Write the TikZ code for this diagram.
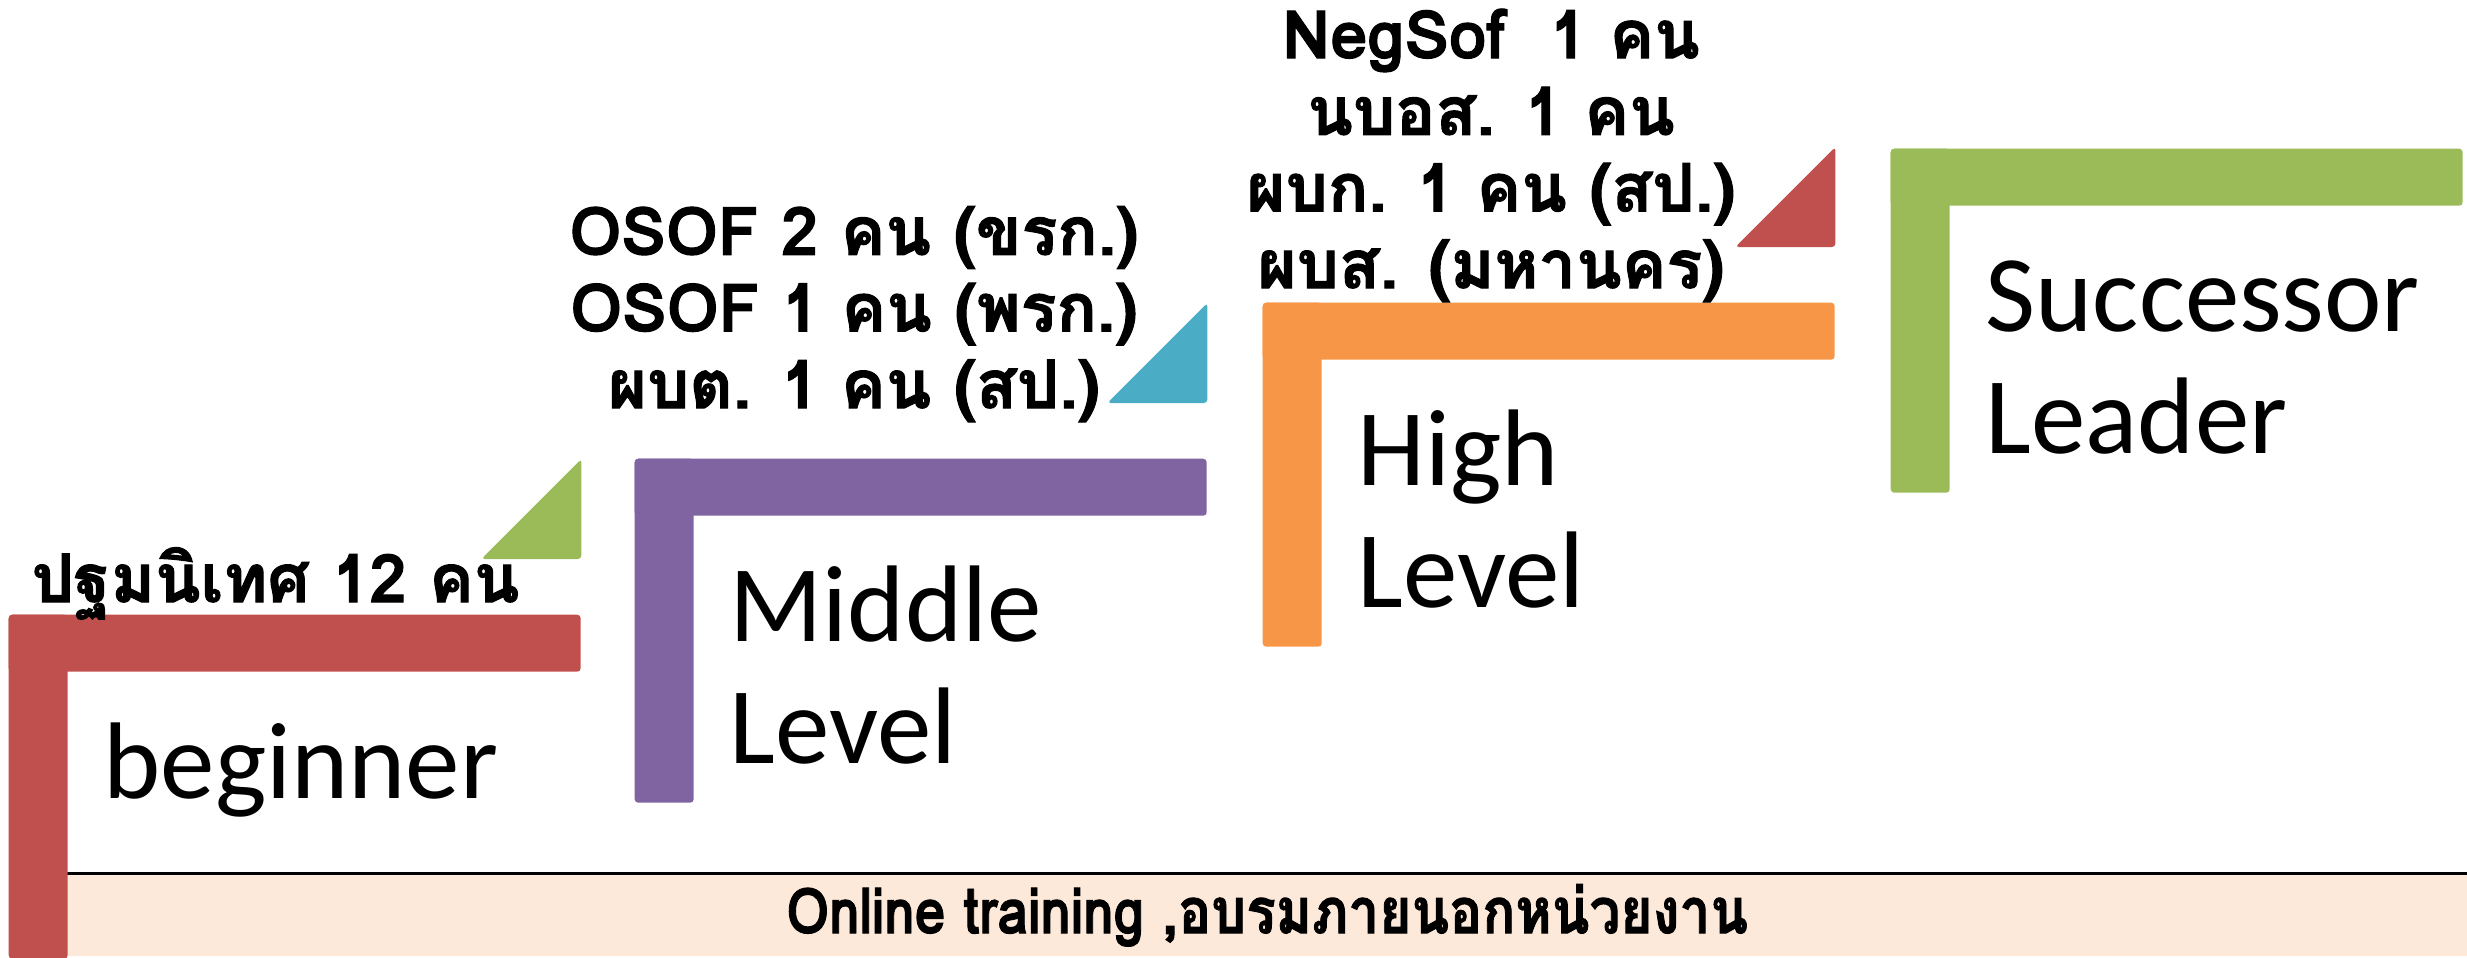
\documentclass[tikz,border=0pt]{standalone}
\usepackage{fontspec}
\setmainfont{Carlito}
\newfontfamily\thaifont[Script=Thai,BoldFeatures={FakeBold=1.5}]{Loma}
\usepackage{tikz}
\usetikzlibrary{positioning,calc}

\definecolor{stepred}{HTML}{C0504D}
\definecolor{stepgreen}{HTML}{9BBB59}
\definecolor{steppurple}{HTML}{8064A2}
\definecolor{stepblue}{HTML}{4BACC6}
\definecolor{steporange}{HTML}{F79646}
\definecolor{bandfill}{HTML}{FDE9D9}

\tikzset{
	stairbar/.style={fill=#1,minimum width=5.72cm,minimum height=0.57cm,inner sep=0pt,anchor=north west,rounded corners=1pt},
	stairpost/.style={fill=#1,minimum width=0.59cm,minimum height=3.44cm,inner sep=0pt,anchor=north west,rounded corners=1pt},
	levellabel/.style={anchor=base west,inner sep=0pt,font=\fontsize{31}{34.5}\selectfont},
	countlabel/.style={align=center,inner sep=0pt,font=\thaifont\bfseries\fontsize{19}{21.8}\selectfont},
}

\begin{document}
\begin{tikzpicture}
		\useasboundingbox (0,0) rectangle (24.67,9.57);
		\node[fill=bandfill,minimum width=24.01cm,minimum height=0.82cm,inner sep=0pt,anchor=south west] (band) at (0.66,0) {\scalebox{0.87}[1]{\thaifont\bfseries\fontsize{18}{21}\selectfont Online training ,อบรมภายนอกหน่วยงาน}};
		\draw[thick] (band.south west)--(band.north west)--(band.north east);
		
		\node[stairbar=stepred] (b1) at (0.08,3.43) {};
		\node[stairpost=stepred] (p1) at (b1.north west) {};
		\node[stairbar=steppurple,shift={(6.26,1.56)}] (b2) at (b1.north west) {};
		\node[stairpost=steppurple] (p2) at (b2.north west) {};
		\node[stairbar=steporange,shift={(6.28,1.56)}] (b3) at (b2.north west) {};
		\node[stairpost=steporange] (p3) at (b3.north west) {};
		\node[stairbar=stepgreen,shift={(6.28,1.54)}] (b4) at (b3.north west) {};
		\node[stairpost=stepgreen] (p4) at (b4.north west) {};
		
		\coordinate[shift={(0,0.55)}] (t1) at (b1.north east);
		\fill[stepgreen,rounded corners=1pt] (t1)--++(0,1.0)--++(-1.0,-1.0)--cycle;
		\coordinate[shift={(0,0.55)}] (t2) at (b2.north east);
		\fill[stepblue,rounded corners=1pt] (t2)--++(0,1.0)--++(-1.0,-1.0)--cycle;
		\coordinate[shift={(0,0.55)}] (t3) at (b3.north east);
		\fill[stepred,rounded corners=1pt] (t3)--++(0,1.0)--++(-1.0,-1.0)--cycle;
		
		\node[levellabel,shift={(0.95,-1.26)}] (beg) at (b1.south west) {beginner};
		\node[levellabel,shift={(0.95,-1.25)}] (mid) at (b2.south west) {Middle};
		\node[levellabel,shift={(0,-1.22)}] (midlvl) at (mid.base west) {Level};
		\node[levellabel,shift={(0.95,-1.25)}] (high) at (b3.south west) {High};
		\node[levellabel,shift={(0,-1.22)}] (highlvl) at (high.base west) {Level};
		\node[levellabel,shift={(0.95,-1.25)}] (succ) at (b4.south west) {Successor};
		\node[levellabel,shift={(0,-1.22)}] (lead) at (succ.base west) {Leader};
		
		\node[countlabel,anchor=base west,shift={(0.23,0.12)}] (orient) at (b1.north west) {ปฐมนิเทศ 12 คน};
		\node[countlabel,anchor=base,shift={(2.20,0.50)}] (osof) at (b2.north west) {OSOF 2 คน (ขรก.)\\OSOF 1 คน (พรก.)\\ผบต. 1 คน (สป.)};
		\node[countlabel,anchor=base,shift={(2.29,0.14)}] (negsof) at (b3.north west) {NegSof~ 1 คน\\นบอส. 1 คน\\ผบก. 1 คน (สป.)\\ผบส. (มหานคร)};
	\end{tikzpicture}
\end{document}
